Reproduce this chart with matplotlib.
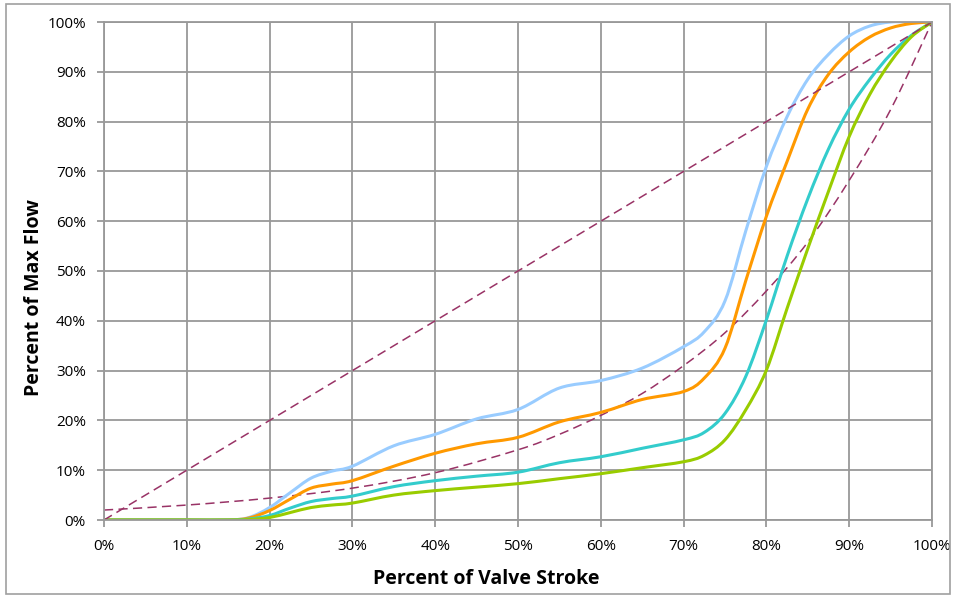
import matplotlib
matplotlib.use("Agg")
import matplotlib.pyplot as plt
from matplotlib.ticker import MultipleLocator, FuncFormatter
from matplotlib.patches import Rectangle, PathPatch
from matplotlib.path import Path

# stroke positions (%) where the curves were read
stroke = [0, 5, 10, 15, 17.5, 20, 22.5, 25, 27.5, 30, 35, 40, 45, 50, 55, 60,
          65, 70, 72.5, 75, 77.5, 80, 82.5, 85, 87.5, 90, 92.5, 95, 97.5, 100]

# flow (%) for the four valve trims
flow_blue = [0, 0, 0, 0, 0.5, 2.5, 5.5, 8.4, 9.8, 10.8, 14.9, 17.2, 20.3, 22.2, 26.5, 28.0,
             30.5, 34.8, 37.8, 44, 58, 71, 81, 88.5, 93.5, 97.2, 99.2, 100, 100, 100]
flow_orange = [0, 0, 0, 0, 0.4, 1.9, 4.2, 6.4, 7.2, 7.9, 10.8, 13.4, 15.3, 16.6, 19.7, 21.6,
               24.2, 25.8, 28.5, 34.5, 48, 61, 72, 82.5, 89.5, 94, 97, 98.8, 99.7, 100]
flow_teal = [0, 0, 0, 0, 0.2, 0.9, 2.4, 3.7, 4.3, 4.8, 6.7, 7.9, 8.8, 9.6, 11.5, 12.7,
             14.4, 16.1, 17.6, 21.4, 28.8, 40.2, 53, 64.5, 74.5, 82.5, 88.5, 93.5, 97.3, 100]
flow_green = [0, 0, 0, 0, 0.1, 0.5, 1.5, 2.5, 3.0, 3.4, 5.0, 5.9, 6.6, 7.3, 8.3, 9.3,
              10.5, 11.7, 13.0, 16.1, 22.1, 30.1, 42.5, 54.5, 66, 77, 85.5, 92, 97, 100]

# reference characteristics (dashed)
lin_x = [0, 100]
lin_y = [0, 100]
eq_x = [0, 10, 20, 30, 40, 50, 55, 60, 65, 70, 75, 80, 85, 90, 95, 100]
eq_y = [2, 3, 4.4, 6.4, 9.5, 14.1, 17.2, 21, 25.4, 31, 37.6, 46, 55.8, 68.2, 82.4, 100]


def smooth_line(ax, xs, ys, **kw):
    # excel style smoothed line: bezier segments through the points
    n = len(xs)
    verts = [(xs[0], ys[0])]
    codes = [Path.MOVETO]
    for i in range(n - 1):
        x0, y0 = xs[max(i - 1, 0)], ys[max(i - 1, 0)]
        x3, y3 = xs[min(i + 2, n - 1)], ys[min(i + 2, n - 1)]
        c1 = (xs[i] + (xs[i + 1] - x0) / 6, ys[i] + (ys[i + 1] - y0) / 6)
        c2 = (xs[i + 1] - (x3 - xs[i]) / 6, ys[i + 1] - (y3 - ys[i]) / 6)
        verts += [c1, c2, (xs[i + 1], ys[i + 1])]
        codes += [Path.CURVE4] * 3
    patch = PathPatch(Path(verts, codes), fill=False, transform=ax.transData, **kw)
    ax.add_patch(patch)
    return patch


fig = plt.figure(figsize=(9.54, 5.97), dpi=100)
ax = fig.add_axes([104 / 954, 1 - 520 / 597, 828 / 954, 498 / 597])

grid_col = "#999999"
ax.grid(True, color=grid_col, linewidth=1.3)
ax.set_axisbelow(True)
for s in ax.spines.values():
    s.set_color(grid_col)
    s.set_linewidth(1.3)

ax.plot(lin_x, lin_y, color="#993366", lw=1.1, dashes=(6, 3.5))
smooth_line(ax, eq_x, eq_y, edgecolor="#993366", lw=1.1, linestyle=(0, (6, 3.5)))

for ys, col in [(flow_blue, "#99CCFF"), (flow_orange, "#FF9900"),
                (flow_teal, "#33CCCC"), (flow_green, "#99CC00")]:
    smooth_line(ax, stroke, ys, edgecolor=col, lw=2.2, joinstyle="round", capstyle="round")

ax.set_xlim(0, 100)
ax.set_ylim(0, 100)
ax.xaxis.set_major_locator(MultipleLocator(10))
ax.yaxis.set_major_locator(MultipleLocator(10))
pct = FuncFormatter(lambda v, p: f"{v:.0f}%")
ax.xaxis.set_major_formatter(pct)
ax.yaxis.set_major_formatter(pct)
ax.tick_params(direction="out", length=5, width=1.3, color=grid_col,
               labelsize=11, labelcolor="black")
ax.tick_params(axis="x", pad=9)
ax.tick_params(axis="y", pad=8)
for lab in ax.get_xticklabels() + ax.get_yticklabels():
    lab.set_family("Open Sans")

fig.text(486 / 954, 1 - 579 / 597, "Percent of Valve Stroke", ha="center", va="center",
         fontsize=14, fontweight="bold", family="Open Sans")
fig.text(34 / 954, 1 - 298 / 597, "Percent of Max Flow", ha="center", va="center",
         rotation=90, fontsize=14, fontweight="bold", family="Open Sans")

fig.patches.append(Rectangle((6 / 954, 3 / 597), 944 / 954, 590 / 597,
                             transform=fig.transFigure, fill=False,
                             edgecolor="#a0a0a0", linewidth=1.2))

fig.savefig("out.png", dpi=100)
